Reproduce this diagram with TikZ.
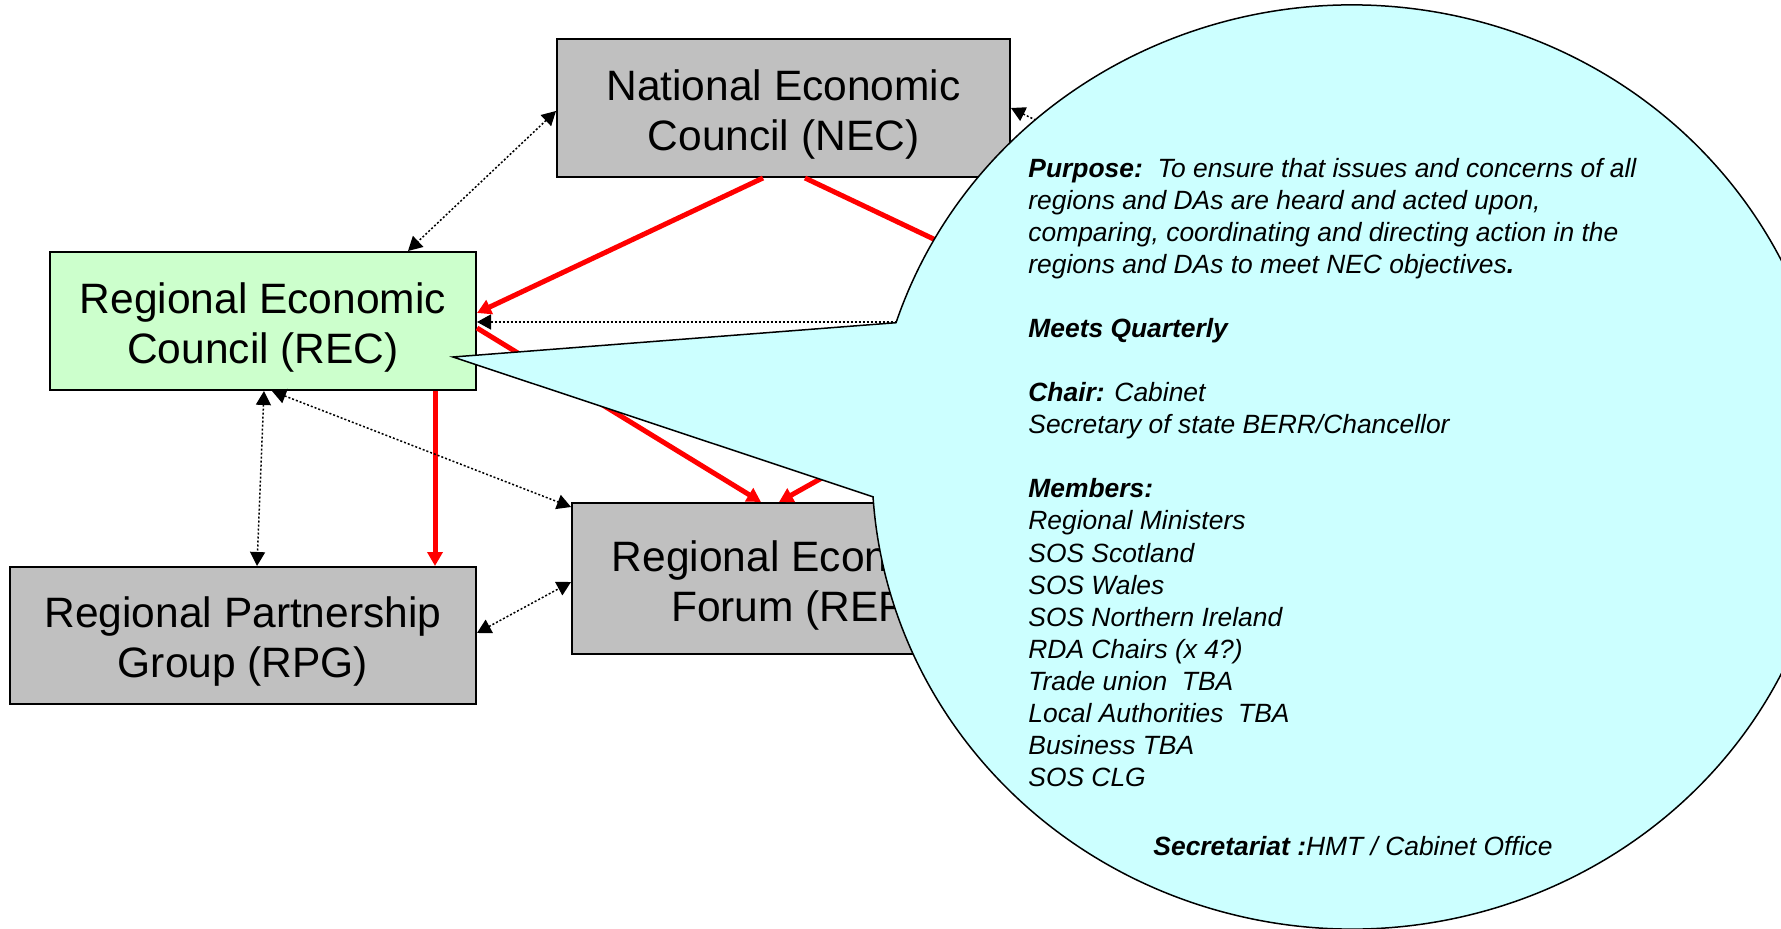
\documentclass[tikz,border=0pt]{standalone}
\usepackage{fontspec}
\setmainfont{Liberation Sans}
\usetikzlibrary{arrows.meta,calc}
\definecolor{boxgray}{HTML}{C0C0C0}
\definecolor{recgreen}{HTML}{CCFFCC}
\definecolor{callcyan}{HTML}{CCFFFF}
\definecolor{arrred}{HTML}{FF0000}
\begin{document}
\begin{tikzpicture}[x=0.5pt,y=0.5pt,
  orgbox/.style={draw=black, line width=1pt, fill=boxgray, inner sep=0pt},
  boxtext/.style={align=center, inner sep=0pt, yshift=-3.25pt,
    font=\fontsize{21.25pt}{25pt}\selectfont},
  redarrow/.style={draw=arrred, line width=2.5pt, -{Triangle[length=7pt,width=7.5pt]}},
  dotarrow/.style={draw=black, line width=0.75pt, dash pattern=on 1pt off 1pt,
    {Triangle[length=7pt,width=7.5pt]}-{Triangle[length=7pt,width=7.5pt]}},
  calloutshape/.style={fill=callcyan, draw=black, line width=0.75pt, line join=miter},
  callfont/.style={font=\fontsize{13.2pt}{16.02pt}\selectfont\itshape}]
\useasboundingbox (0,0) rectangle (1781,928);
\clip (0,0) rectangle (1781,928);

% boxes
\node[orgbox, minimum width=226.5pt, minimum height=69pt] (NEC) at (783.5,820) {};
\node[boxtext] (NECt) at (NEC.center) {National Economic\\Council (NEC)};
\node[orgbox, fill=recgreen, minimum width=213pt, minimum height=69pt] (REC) at (263,607) {};
\node[boxtext] (RECt) at (REC.center) {Regional Economic\\Council (REC)};
\node[orgbox, minimum width=233pt, minimum height=68.5pt] (RPG) at (243,292.5) {};
\node[boxtext] (RPGt) at (RPG.center) {Regional Partnership\\Group (RPG)};
\node[orgbox, minimum width=223pt, minimum height=75.5pt] (REF) at (795,349.5) {};
\node[boxtext] (REFt) at (REF.center) {Regional Economic\\Forum (REF)};
% node hidden behind the callout
\node[inner sep=0pt, minimum width=213pt, minimum height=69pt] (DA) at (1303,607) {};

% red arrows
\draw[redarrow] ([xshift=-10.25pt]NEC.south) -- ([yshift=4pt]REC.east);
\draw[redarrow] ([xshift=10.75pt]NEC.south) -- ([yshift=4pt]DA.west);
\draw[redarrow] ([yshift=-3.5pt]REC.east) -- ([xshift=-17pt]REF.north);
\draw[redarrow] ([yshift=-3.5pt]DA.west) -- ([xshift=-8pt]REF.north);
\coordinate (r5) at ([xshift=86pt]REC.south);
\draw[redarrow] (r5) -- (r5 |- RPG.north);

% dotted arrows
\draw[dotarrow] ([yshift=-1.5pt]NEC.west) -- ([xshift=72.5pt]REC.north);
\draw[dotarrow] ([xshift=0.5pt]REC.south) -- ([xshift=7pt]RPG.north);
\draw[dotarrow] ([xshift=4.5pt]REC.south) -- ([yshift=-2.5pt]REF.north west);
\draw[dotarrow] ([yshift=1.25pt]RPG.east) -- ([yshift=-1.75pt]REF.west);
\draw[dotarrow] ([yshift=-0.5pt]REC.east) -- ([yshift=-0.5pt]DA.west);
\draw[dotarrow] (NEC.east) -- (DA.north);

% callout
\coordinate (C) at (1352,461);
\coordinate (tip) at ([xshift=-12pt,yshift=-18pt]REC.east);
\filldraw[calloutshape] (tip) -- ($(C)+(161.8:240pt and 231pt)$)
  arc[start angle=161.8, end angle=-176.3, x radius=240pt, y radius=231pt] -- cycle;

\node[callfont, anchor=north west, align=left, inner sep=0pt] (txt) at (1028,770) {%
\textbf{Purpose:}\ \ To ensure that issues and concerns of all\\
regions and DAs are heard and acted upon,\\
comparing, coordinating and directing action in the\\
regions and DAs to meet NEC objectives\textbf{.}\\[16.02pt]
\textbf{Meets Quarterly}\\[16.02pt]
\textbf{Chair:} Cabinet\\
Secretary of state BERR/Chancellor\\[16.02pt]
\textbf{Members:}\\
Regional Ministers\\
SOS Scotland\\
SOS Wales\\
SOS Northern Ireland\\
RDA Chairs (x 4?)\\
Trade union\ \ TBA\\
Local Authorities\ \ TBA\\
Business TBA\\
SOS CLG};
\node[callfont, anchor=base, inner sep=0pt] (sec) at (1353,73) {\textbf{Secretariat :}HMT / Cabinet Office};
\end{tikzpicture}
\end{document}
